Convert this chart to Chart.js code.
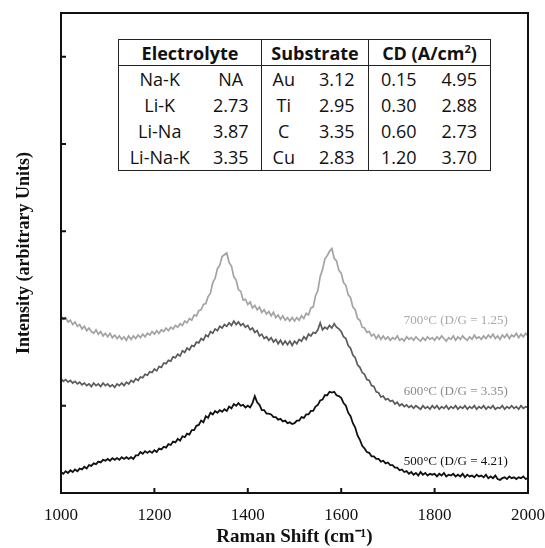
<!DOCTYPE html>
<html>
<head>
<meta charset="utf-8">
<script src="https://cdn.jsdelivr.net/npm/chart.js@4.4.1/dist/chart.umd.min.js"></script>
<style>
  html, body { margin: 0; padding: 0; background: #fff; }
  #wrap { position: relative; width: 545px; height: 548px; }
  #info {
    position: absolute; left: 118px; top: 39px; width: 372px;
    table-layout: fixed; border-collapse: collapse; background: #fff;
    font-family: "Open Sans", "Lato", sans-serif; font-size: 18px; color: #111;
    border: 1.5px solid #222;
  }
  #info th { font-weight: bold; height: 25px; padding: 0; border-bottom: 1.5px solid #222; }
  #info td { height: 26px; padding: 0; text-align: center; }
  #info .sep { border-left: 1.5px solid #222; }
</style>
</head>
<body>
<div id="wrap">
  <canvas id="chart" width="545" height="548"></canvas>
  <table id="info"></table>
</div>
<script>
// Raman shift positions (cm-1)
const shifts = [
  1000,1005,1010,1015,1020,1025,1030,1035,1040,1045,1050,1055,1060,1065,1070,1075,1080,1085,1090,1095,
  1100,1105,1110,1115,1120,1125,1130,1135,1140,1145,1150,1155,1160,1165,1170,1175,1180,1185,1190,1195,
  1200,1205,1210,1215,1220,1225,1230,1235,1240,1245,1250,1255,1260,1265,1270,1275,1280,1285,1290,1295,
  1300,1305,1310,1315,1320,1325,1330,1335,1340,1345,1350,1355,1360,1365,1370,1375,1380,1385,1390,1395,
  1400,1405,1410,1415,1420,1425,1430,1435,1440,1445,1450,1455,1460,1465,1470,1475,1480,1485,1490,1495,
  1500,1505,1510,1515,1520,1525,1530,1535,1540,1545,1550,1555,1560,1565,1570,1575,1580,1585,1590,1595,
  1600,1605,1610,1615,1620,1625,1630,1635,1640,1645,1650,1655,1660,1665,1670,1675,1680,1685,1690,1695,
  1700,1705,1710,1715,1720,1725,1730,1735,1740,1745,1750,1755,1760,1765,1770,1775,1780,1785,1790,1795,
  1800,1805,1810,1815,1820,1825,1830,1835,1840,1845,1850,1855,1860,1865,1870,1875,1880,1885,1890,1895,
  1900,1905,1910,1915,1920,1925,1930,1935,1940,1945,1950,1955,1960,1965,1970,1975,1980,1985,1990,1995,
  2000]

// intensities (arbitrary units, offset per spectrum)
const t700 = [
  2.03,1.99,2.01,1.96,1.98,1.93,1.96,1.91,1.93,1.88, 1.91,1.86,1.89,1.85,1.83,1.87,1.82,1.85,1.80,1.83,
  1.79,1.83,1.78,1.81,1.77,1.80,1.76,1.79,1.75,1.80, 1.76,1.80,1.77,1.81,1.78,1.82,1.79,1.83,1.81,1.85,
  1.82,1.86,1.83,1.87,1.85,1.89,1.86,1.90,1.88,1.92, 1.90,1.94,1.92,1.97,1.95,2.00,1.98,2.04,2.03,2.09,
  2.10,2.16,2.17,2.25,2.29,2.41,2.46,2.57,2.61,2.71, 2.73,2.75,2.64,2.60,2.48,2.44,2.33,2.31,2.21,2.22,
  2.16,2.19,2.12,2.15,2.10,2.13,2.07,2.10,2.05,2.08, 2.03,2.07,2.01,2.04,1.99,2.03,1.98,2.01,1.97,2.01,
  1.97,2.01,1.98,2.03,2.00,2.06,2.04,2.12,2.13,2.26, 2.32,2.48,2.56,2.68,2.72,2.77,2.80,2.69,2.66,2.55,
  2.52,2.41,2.38,2.27,2.24,2.13,2.10,2.00,1.98,1.90, 1.89,1.84,1.85,1.80,1.82,1.77,1.81,1.76,1.80,1.76,
  1.79,1.75,1.78,1.76,1.80,1.75,1.77,1.74,1.79,1.76, 1.78,1.75,1.79,1.76,1.74,1.78,1.75,1.79,1.76,1.78,
  1.75,1.79,1.76,1.80,1.77,1.74,1.78,1.76,1.80,1.75, 1.79,1.76,1.80,1.77,1.75,1.79,1.76,1.81,1.77,1.79,
  1.76,1.80,1.77,1.81,1.78,1.82,1.77,1.80,1.76,1.81, 1.78,1.82,1.77,1.81,1.79,1.83,1.78,1.82,1.79,1.83,
  1.80]

const t600 = [
  1.31,1.28,1.30,1.27,1.29,1.26,1.28,1.25,1.27,1.24, 1.26,1.23,1.25,1.22,1.26,1.23,1.25,1.22,1.26,1.23,
  1.25,1.22,1.24,1.21,1.25,1.23,1.26,1.23,1.27,1.25, 1.29,1.27,1.31,1.29,1.33,1.32,1.36,1.35,1.39,1.38,
  1.42,1.40,1.45,1.44,1.49,1.48,1.52,1.51,1.56,1.55, 1.59,1.57,1.63,1.61,1.66,1.64,1.69,1.68,1.73,1.72,
  1.77,1.75,1.81,1.79,1.85,1.83,1.88,1.86,1.91,1.89, 1.93,1.91,1.95,1.92,1.97,1.93,1.96,1.92,1.94,1.90,
  1.92,1.87,1.89,1.84,1.86,1.80,1.82,1.77,1.79,1.75, 1.78,1.73,1.76,1.71,1.75,1.70,1.74,1.70,1.74,1.69,
  1.74,1.71,1.76,1.74,1.79,1.76,1.82,1.80,1.84,1.83, 1.87,1.95,1.87,1.90,1.88,1.92,1.89,1.94,1.90,1.88,
  1.85,1.79,1.77,1.69,1.66,1.58,1.55,1.47,1.44,1.38, 1.36,1.30,1.29,1.23,1.22,1.16,1.15,1.10,1.11,1.07,
  1.08,1.05,1.06,1.02,1.04,1.00,1.02,0.99,1.01,0.98, 1.00,0.97,1.00,0.98,0.96,1.00,0.97,0.99,0.96,1.00,
  0.97,1.00,0.96,0.99,0.97,1.00,0.96,0.99,0.97,1.00, 0.96,0.99,0.97,1.00,0.96,0.99,0.97,1.00,0.96,0.99,
  0.97,1.00,0.96,0.99,0.97,1.00,0.96,0.98,0.97,1.00, 0.96,0.99,0.97,1.00,0.97,0.99,0.96,1.00,0.97,0.99,
  0.98]

const t500 = [
  0.24,0.22,0.25,0.23,0.26,0.24,0.27,0.25,0.28,0.27, 0.30,0.28,0.32,0.31,0.34,0.33,0.36,0.35,0.38,0.37,
  0.39,0.37,0.40,0.38,0.40,0.38,0.41,0.39,0.41,0.39, 0.41,0.39,0.43,0.43,0.47,0.45,0.48,0.46,0.48,0.46,
  0.49,0.47,0.51,0.50,0.53,0.52,0.56,0.55,0.59,0.58, 0.62,0.60,0.65,0.64,0.68,0.67,0.72,0.72,0.77,0.78,
  0.83,0.81,0.88,0.86,0.92,0.90,0.94,0.92,0.95,0.93, 0.96,0.94,0.99,0.97,1.02,1.00,1.03,1.00,1.01,0.98,
  1.00,0.98,1.03,1.11,1.04,1.01,0.95,0.95,0.91,0.91, 0.90,0.87,0.87,0.84,0.85,0.82,0.83,0.80,0.81,0.79,
  0.80,0.83,0.83,0.87,0.86,0.90,0.90,0.94,0.94,0.99, 1.01,1.06,1.07,1.12,1.12,1.16,1.15,1.16,1.12,1.11,
  1.09,1.03,1.00,0.92,0.88,0.80,0.75,0.66,0.61,0.54, 0.51,0.47,0.46,0.42,0.42,0.39,0.39,0.36,0.37,0.34,
  0.35,0.32,0.32,0.29,0.29,0.26,0.27,0.24,0.25,0.22, 0.24,0.21,0.23,0.20,0.24,0.21,0.23,0.20,0.22,0.21,
  0.22,0.19,0.22,0.20,0.23,0.19,0.21,0.20,0.22,0.19, 0.21,0.19,0.22,0.18,0.21,0.19,0.20,0.18,0.21,0.19,
  0.20,0.18,0.21,0.17,0.19,0.17,0.20,0.16,0.15,0.17, 0.18,0.16,0.19,0.17,0.18,0.16,0.18,0.17,0.19,0.16,
  0.17]

const xTicks = [1000, 1200, 1400, 1600, 1800, 2000]
const curveLabels = ['700°C (D/G = 1.25)', '600°C (D/G = 3.35)', '500°C (D/G = 4.21)']
const labelY = [1.98, 1.16, 0.36]
const labelColors = ['#a8a8a8', '#8a8a8a', '#111111']

// table values
const electrolytes = ['Na-K', 'Li-K', 'Li-Na', 'Li-Na-K']
const electrolyteDG = ['NA', '2.73', '3.87', '3.35']
const substrates = ['Au', 'Ti', 'C', 'Cu']
const substrateDG = ['3.12', '2.95', '3.35', '2.83']
const cds = ['0.15', '0.30', '0.60', '1.20']
const cdDG = ['4.95', '2.88', '2.73', '3.70']

// build the inset table
const table = document.getElementById('info')
let html = '<colgroup><col style="width:82px"><col style="width:61px"><col style="width:44px">' +
  '<col style="width:63px"><col style="width:60px"><col style="width:62px"></colgroup>' +
  '<tr><th colspan="2">Electrolyte</th><th colspan="2" class="sep">Substrate</th>' +
  '<th colspan="2" class="sep">CD (A/cm<sup style="font-size:11px">2</sup>)</th></tr>'
for (let i = 0; i < electrolytes.length; i++) {
  html += `<tr>
    <td>${electrolytes[i]}</td><td>${electrolyteDG[i]}</td>
    <td class="sep">${substrates[i]}</td><td>${substrateDG[i]}</td>
    <td class="sep">${cds[i]}</td><td>${cdDG[i]}</td>
  </tr>`
}
table.innerHTML = html

const toPoints = arr => arr.map((v, i) => ({ x: shifts[i], y: v }))

// box around the plot area + inward tick marks + curve labels
const framePlugin = {
  id: 'frame',
  afterDatasetsDraw(chart) {
    const { ctx, chartArea: a, scales } = chart
    ctx.save()
    ctx.strokeStyle = '#111'
    ctx.lineWidth = 2
    ctx.strokeRect(a.left, a.top, a.right - a.left, a.bottom - a.top)
    ctx.beginPath()
    xTicks.forEach(v => {
      const px = scales.x.getPixelForValue(v)
      ctx.moveTo(px, a.bottom)
      ctx.lineTo(px, a.bottom - 5)
    })
    scales.y.ticks.forEach(t => {
      if (t.value <= 0) return
      const py = scales.y.getPixelForValue(t.value)
      ctx.moveTo(a.left, py)
      ctx.lineTo(a.left + 5, py)
    })
    ctx.stroke()

    ctx.font = '13px "Liberation Serif", "Times New Roman", serif'
    ctx.textAlign = 'right'
    ctx.textBaseline = 'middle'
    curveLabels.forEach((txt, i) => {
      ctx.fillStyle = labelColors[i]
      ctx.fillText(txt, scales.x.getPixelForValue(1957), scales.y.getPixelForValue(labelY[i]))
    })
    ctx.restore()
  }
}

const serif = '"Liberation Serif", "Times New Roman", serif'

new Chart(document.getElementById('chart'), {
  type: 'line',
  data: {
    datasets: [
      { label: '700°C', data: toPoints(t700), borderColor: '#a3a3a3', borderWidth: 1.7 },
      { label: '600°C', data: toPoints(t600), borderColor: '#5a5a5a', borderWidth: 1.7 },
      { label: '500°C', data: toPoints(t500), borderColor: '#111111', borderWidth: 1.8 }
    ]
  },
  options: {
    responsive: false,
    animation: false,
    layout: { padding: { top: 13, right: 0, left: 0, bottom: 0 } },
    elements: { point: { radius: 0 }, line: { tension: 0 } },
    plugins: { legend: { display: false }, tooltip: { enabled: false } },
    scales: {
      x: {
        type: 'linear',
        min: 1000,
        max: 2000,
        afterBuildTicks: s => { s.ticks = xTicks.map(v => ({ value: v })) },
        grid: { display: false, drawTicks: false },
        border: { display: false },
        ticks: { color: '#111', padding: 12, font: { family: serif, size: 17 }, callback: v => String(v) },
        title: {
          display: true,
          text: 'Raman Shift (cm⁻¹)',
          color: '#111',
          padding: { top: 2, bottom: 0 },
          font: { family: serif, size: 19, weight: 'bold' }
        },
        afterFit: s => { s.height = 55; s.paddingRight = 17 }
      },
      y: {
        min: 0,
        max: 5.5,
        ticks: { display: false, stepSize: 1 },
        grid: { display: false, drawTicks: false },
        border: { display: false },
        title: {
          display: true,
          text: 'Intensity (arbitrary Units)',
          color: '#111',
          padding: { top: 14, bottom: 0 },
          font: { family: serif, size: 18, weight: 'bold' }
        },
        afterFit: s => { s.width = 61 }
      }
    }
  },
  plugins: [framePlugin]
})
</script>
</body>
</html>
